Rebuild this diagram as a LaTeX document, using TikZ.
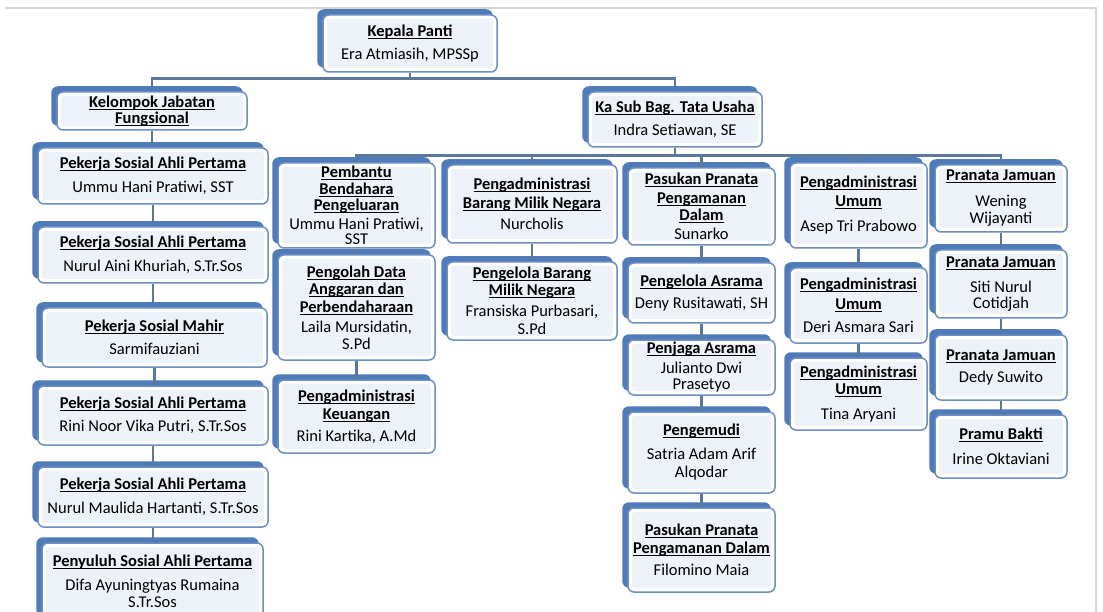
\documentclass[tikz,border=0pt]{standalone}
\usepackage{fontspec}
\setmainfont{Carlito}
\usetikzlibrary{shadows}
\definecolor{tabblue}{HTML}{4F7CB9}
\definecolor{edgeblue}{HTML}{6C8EC2}
\definecolor{innerfill}{HTML}{EDF1F8}
\definecolor{linkcol}{HTML}{5B7799}
\definecolor{pagegray}{HTML}{D6D6D6}
\newcommand{\jab}[1]{\leavevmode\setbox0\hbox{\textbf{#1}}\rlap{\rule[-2.3pt]{\wd0}{0.9pt}}\box0}
\begin{document}
\begin{tikzpicture}[x=1pt,y=-1pt,
  orgbox/.style={draw=edgeblue, line width=1.5pt, fill=white, rounded corners=6pt,
    inner sep=2pt, align=center, font=\fontsize{16.5pt}{17.5pt}\selectfont,
    copy shadow={shadow xshift=-5pt, shadow yshift=5pt, fill=tabblue, draw=tabblue},
    path picture={\fill[innerfill, rounded corners=3pt]
      ([shift={(4pt,-4pt)}]path picture bounding box.north west) rectangle
      ([shift={(-4pt,4pt)}]path picture bounding box.south east);}},
  link/.style={draw=linkcol, line width=2.5pt},
]
\useasboundingbox (0,0) rectangle (1103,612);
%% page edge
\draw[pagegray, line width=1.5pt] (5,8) -- (1096,8) -- (1096,612);
%%
  % Node: kepala
  \node[orgbox, minimum width=174pt, minimum height=57pt] (kepala) at (410,43.5)
    {\jab{Kepala Panti}\\[6pt] Era Atmiasih, MPSSp};
  % Node: kjf
  \node[orgbox, minimum width=190pt, minimum height=38pt] (kjf) at (152,111)
    {\jab{Kelompok Jabatan}\\[-1.5pt]\jab{Fungsional}};
  % Node: ksb
  \node[orgbox, minimum width=174pt, minimum height=55pt] (ksb) at (675,119.5)
    {\jab{Ka Sub Bag. Tata Usaha}\\[6pt] Indra Setiawan, SE};
%% fungsional
  % Node: f1
  \node[orgbox, minimum width=230pt, minimum height=56pt] (f1) at (153,176)
    {\jab{Pekerja Sosial Ahli Pertama}\\[6pt] Ummu Hani Pratiwi, SST};
  % Node: f2
  \node[orgbox, minimum width=230pt, minimum height=56pt] (f2) at (153,255)
    {\jab{Pekerja Sosial Ahli Pertama}\\[6pt] Nurul Aini Khuriah, S.Tr.Sos};
  % Node: f3
  \node[orgbox, minimum width=225pt, minimum height=59pt] (f3) at (154.5,337.5)
    {\jab{Pekerja Sosial Mahir}\\[6pt] Sarmifauziani};
  % Node: f4
  \node[orgbox, minimum width=230pt, minimum height=59pt] (f4) at (153,415.5)
    {\jab{Pekerja Sosial Ahli Pertama}\\[6pt] Rini Noor Vika Putri, S.Tr.Sos};
  % Node: f5
  \node[orgbox, minimum width=230pt, minimum height=60pt] (f5) at (153,497)
    {\jab{Pekerja Sosial Ahli Pertama}\\[6pt] Nurul Maulida Hartanti, S.Tr.Sos};
  % Node: f6
  \node[orgbox, minimum width=221pt, minimum height=77pt] (f6) at (152.5,581.5)
    {\jab{Penyuluh Sosial Ahli Pertama}\\[6pt] Difa Ayuningtyas Rumaina\\ S.Tr.Sos};
%% keuangan
  % Node: a1
  \node[orgbox, inner sep=0pt, minimum width=157pt, minimum height=85pt] (a1) at (356.5,205.5)
    {\jab{Pembantu}\\[-1pt]\jab{Bendahara}\\[-1pt]\jab{Pengeluaran}\\[1pt]
     Ummu Hani Pratiwi,\\[-2.5pt] SST};
  % Node: a2
  \node[orgbox, minimum width=157pt, minimum height=105pt] (a2) at (356.5,307.5)
    {\jab{Pengolah Data}\\\jab{Anggaran dan}\\\jab{Perbendaharaan}\\[3pt]
     Laila Mursidatin,\\[-1pt] S.Pd};
  % Node: a3
  \node[orgbox, minimum width=157pt, minimum height=73pt] (a3) at (356.5,416.5)
    {\jab{Pengadministrasi}\\[1pt]\jab{Keuangan}\\[4pt] Rini Kartika, A.Md};
%% barang
  % Node: b1
  \node[orgbox, minimum width=170pt, minimum height=78pt] (b1) at (532,204)
    {\jab{Pengadministrasi}\\[1pt]\jab{Barang Milik Negara}\\[4pt] Nurcholis};
  % Node: b2
  \node[orgbox, minimum width=170pt, minimum height=78pt] (b2) at (532,301)
    {\jab{Pengelola Barang}\\[-1pt]\jab{Milik Negara}\\[4pt] Fransiska Purbasari,\\ S.Pd};
%% asrama
  % Node: c1
  \node[orgbox, minimum width=147pt, minimum height=77pt] (c1) at (701.5,206.5)
    {\jab{Pasukan Pranata}\\[1pt]\jab{Pengamanan}\\[0pt]\jab{Dalam}\\[1pt] Sunarko};
  % Node: c2
  \node[orgbox, minimum width=147pt, minimum height=60pt] (c2) at (701.5,293)
    {\jab{Pengelola Asrama}\\[5pt] Deny Rusitawati, SH};
  % Node: c3
  \node[orgbox, minimum width=147pt, minimum height=55pt] (c3) at (701.5,367.5)
    {\jab{Penjaga Asrama}\\[2pt] Julianto Dwi\\[-1pt] Prasetyo};
  % Node: c4
  \node[orgbox, minimum width=147pt, minimum height=81pt] (c4) at (701.5,452.5)
    {\jab{Pengemudi}\\[6pt] Satria Adam Arif\\[1pt] Alqodar};
  % Node: c5
  \node[orgbox, minimum width=147pt, minimum height=84pt] (c5) at (701.5,550)
    {\jab{Pasukan Pranata}\\\jab{Pengamanan Dalam}\\[5pt] Filomino Maia};
%% umum
  % Node: d1
  \node[orgbox, minimum width=137pt, minimum height=85pt] (d1) at (858.5,205.5)
    {\jab{Pengadministrasi}\\[1pt]\jab{Umum}\\[8pt] Asep Tri Prabowo};
  % Node: d2
  \node[orgbox, minimum width=137pt, minimum height=75pt] (d2) at (858.5,305.5)
    {\jab{Pengadministrasi}\\[2pt]\jab{Umum}\\[6pt] Deri Asmara Sari};
  % Node: d3
  \node[orgbox, minimum width=137pt, minimum height=72pt] (d3) at (858.5,394)
    {\jab{Pengadministrasi}\\\jab{Umum}\\[7pt] Tina Aryani};
%% jamuan
  % Node: e1
  \node[orgbox, minimum width=132pt, minimum height=67pt] (e1) at (1001,198.5)
    {\jab{Pranata Jamuan}\\[8pt] Wening\\ Wijayanti};
  % Node: e2
  \node[orgbox, minimum width=132pt, minimum height=68pt] (e2) at (1001,284)
    {\jab{Pranata Jamuan}\\[8pt] Siti Nurul\\[-2pt] Cotidjah};
  % Node: e3
  \node[orgbox, minimum width=132pt, minimum height=65pt] (e3) at (1001,367.5)
    {\jab{Pranata Jamuan}\\[5pt] Dedy Suwito};
  % Node: e4
  \node[orgbox, minimum width=132pt, minimum height=63pt] (e4) at (1001,446.5)
    {\jab{Pramu Bakti}\\[8pt] Irine Oktaviani};
%%
  % Edge: kepala -> kjf
  \draw[link] (kepala.south) -- ++(0,6) -| (kjf.north);
  % Edge: kepala -> ksb
  \draw[link] (kepala.south) -- ++(0,6) -| (ksb.north);
  % Edge: ksb -> a1
  \draw[link] (ksb.south) -- ++(0,8) -| (a1.north);
  % Edge: ksb -> b1
  \draw[link] (ksb.south) -- ++(0,8) -| (b1.north);
  % Edge: ksb -> c1
  \draw[link] (ksb.south) -- ++(0,8) -| (c1.north);
  % Edge: ksb -> d1
  \draw[link] (ksb.south) -- ++(0,8) -| (d1.north);
  % Edge: ksb -> e1
  \draw[link] (ksb.south) -- ++(0,8) -| (e1.north);
  % Edge: kjf -> f1
  \draw[link] (kjf.south) -- (kjf.south |- f1.north);
  % Edge: f1 -> f2
  \draw[link] (f1.south) -- (f1.south |- f2.north);
  % Edge: f2 -> f3
  \draw[link] (f2.south) -- (f2.south |- f3.north);
  % Edge: f3 -> f4
  \draw[link] (f3.south) -- (f3.south |- f4.north);
  % Edge: f4 -> f5
  \draw[link] (f4.south) -- (f4.south |- f5.north);
  % Edge: f5 -> f6
  \draw[link] (f5.south) -- (f5.south |- f6.north);
  % Edge: a1 -> a2
  \draw[link] (a1.south) -- (a2.north);
  % Edge: a2 -> a3
  \draw[link] (a2.south) -- (a3.north);
  % Edge: b1 -> b2
  \draw[link] (b1.south) -- (b2.north);
  % Edge: c1 -> c2
  \draw[link] (c1.south) -- (c2.north);
  % Edge: c2 -> c3
  \draw[link] (c2.south) -- (c3.north);
  % Edge: c3 -> c4
  \draw[link] (c3.south) -- (c4.north);
  % Edge: c4 -> c5
  \draw[link] (c4.south) -- (c5.north);
  % Edge: d1 -> d2
  \draw[link] (d1.south) -- (d2.north);
  % Edge: d2 -> d3
  \draw[link] (d2.south) -- (d3.north);
  % Edge: e1 -> e2
  \draw[link] (e1.south) -- (e2.north);
  % Edge: e2 -> e3
  \draw[link] (e2.south) -- (e3.north);
  % Edge: e3 -> e4
  \draw[link] (e3.south) -- (e4.north);
%
\end{tikzpicture}
\end{document}
